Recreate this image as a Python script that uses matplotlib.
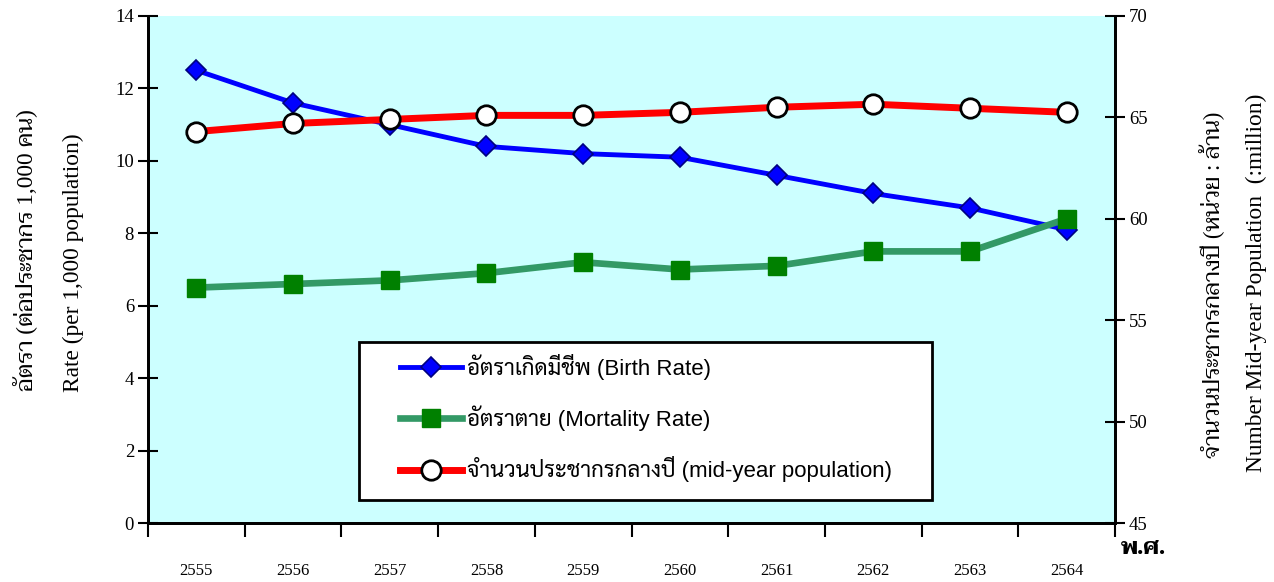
import matplotlib
matplotlib.use('Agg')
import matplotlib.pyplot as plt
from matplotlib.patches import Rectangle
import numpy as np

years = ['2555', '2556', '2557', '2558', '2559', '2560', '2561', '2562', '2563', '2564']
birth_rate = [12.5, 11.6, 11.0, 10.4, 10.2, 10.1, 9.6, 9.1, 8.7, 8.1]
mortality_rate = [6.5, 6.6, 6.7, 6.9, 7.2, 7.0, 7.1, 7.5, 7.5, 8.4]
population = [64.3, 64.7, 64.9, 65.1, 65.1, 65.25, 65.5, 65.65, 65.45, 65.25]

serif = ['Liberation Serif', 'Taviraj']
sans = ['Liberation Sans', 'Sarabun']

W, H = 1274, 582
fig = plt.figure(figsize=(W / 100, H / 100), dpi=100)
ax = fig.add_axes([148/W, 1 - 523/H, (1115 - 148)/W, (523 - 16)/H])
ax.set_facecolor('#CCFFFF')

x = np.arange(len(years))
l1, = ax.plot(x, birth_rate, color='#0000FF', lw=3.5, marker='D', ms=10,
              mfc='#0000FF', mec='#000080', mew=1.2, zorder=3,
              label='อัตราเกิดมีชีพ (Birth Rate)')
l2, = ax.plot(x, mortality_rate, color='#339966', lw=4.8, marker='s', ms=13,
              mfc='#008000', mec='#008000', zorder=4,
              label='อัตราตาย (Mortality Rate)')

ax2 = ax.twinx()
l3, = ax2.plot(x, population, color='#FF0000', lw=5, marker='o', ms=14,
               mfc='white', mec='black', mew=2, zorder=5,
               label='จำนวนประชากรกลางปี (mid-year population)')

ax.set_xlim(-0.5, len(years) - 0.5)
ax.set_ylim(0, 14)
ax.set_yticks(np.arange(0, 15, 2))
ax2.set_ylim(45, 70)
ax2.set_yticks(np.arange(45, 71, 5))

ax.set_xticks(np.arange(-0.5, len(years), 1))
ax.set_xticklabels([])
ax.set_xticks(x, minor=True)
ax.set_xticklabels(years, minor=True, fontsize=12, family=serif)
ax.tick_params(axis='x', which='major', direction='out', length=10, width=1.5)
ax.tick_params(axis='x', which='minor', length=0, pad=29)

ax.tick_params(axis='y', direction='inout', length=14, width=1.5, labelsize=13.5, pad=3)
ax2.tick_params(axis='y', direction='inout', length=14, width=1.5, labelsize=13.5, pad=3)
for lab in ax.get_yticklabels() + ax2.get_yticklabels():
    lab.set_family(serif)

for a in (ax, ax2):
    a.spines['top'].set_visible(False)
    for s in ('left', 'right', 'bottom'):
        a.spines[s].set_linewidth(2)

fig.text(25/W, 1 - 250/H, 'อัตรา (ต่อประชากร 1,000 คน)', rotation=90,
         ha='center', va='center', fontsize=16.8, family=serif)
fig.text(73/W, 1 - 263/H, 'Rate (per 1,000 population)', rotation=90,
         ha='center', va='center', fontsize=16.8, family=serif)
fig.text(1211/W, 1 - 285/H, 'จำนวนประชากรกลางปี (หน่วย : ล้าน)', rotation=90,
         ha='center', va='center', fontsize=16.5, family=serif)
fig.text(1256/W, 1 - 283/H, 'Number Mid-year Population  (:million)', rotation=90,
         ha='center', va='center', fontsize=16.8, family=serif)
fig.text(1143/W, 1 - 549/H, 'พ.ศ.', ha='center', va='center',
         fontsize=16, fontweight='bold', family=['Taviraj'])

# legend box
fig.patches.append(Rectangle((359/W, 1 - 500/H), (932 - 359)/W, (500 - 342)/H,
                             transform=fig.transFigure, facecolor='white',
                             edgecolor='black', linewidth=2, zorder=10))
leg = fig.legend(handles=[l1, l2, l3], loc='center left',
                 bbox_to_anchor=(400/W, 1 - 418/H), prop={'family': sans, 'size': 16},
                 frameon=False, handlelength=2.8, handletextpad=0.2, labelspacing=1.15,
                 borderpad=0, borderaxespad=0)
leg.set_zorder(11)

fig.savefig('out.png', dpi=100)
